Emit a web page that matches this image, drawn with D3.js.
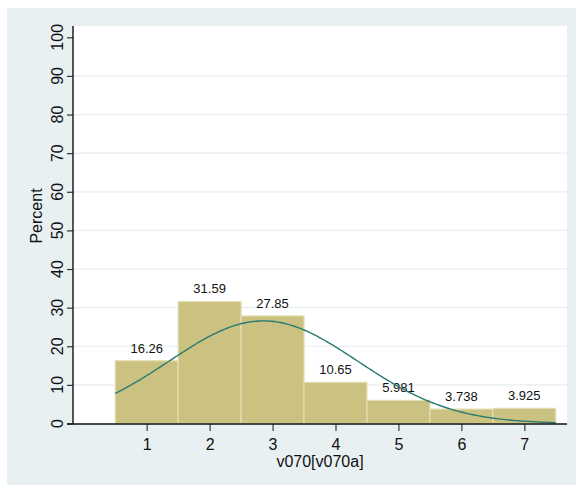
<!DOCTYPE html>
<html>
<head>
<meta charset="utf-8">
<script src="https://cdn.jsdelivr.net/npm/d3@7"></script>
<style>
  html, body { margin: 0; padding: 0; background: #ffffff; }
  svg { display: block; font-family: "Liberation Sans", Arial, sans-serif; }
</style>
</head>
<body>
<svg id="chart" width="576" height="486"></svg>
<script>
// ---- data ----
const categories = [1, 2, 3, 4, 5, 6, 7];
const percents = [16.26, 31.59, 27.85, 10.65, 5.981, 3.738, 3.925];
const percentLabels = ["16.26", "31.59", "27.85", "10.65", "5.981", "3.738", "3.925"];
const yTicks = [0, 10, 20, 30, 40, 50, 60, 70, 80, 90, 100];
const xTicks = [1, 2, 3, 4, 5, 6, 7];
const xTitle = "v070[v070a]";
const yTitle = "Percent";

// normal overlay: mean and sd of the distribution shown by the bars
const mean = d3.sum(categories, (c, i) => c * percents[i]) / d3.sum(percents);
const sd = Math.sqrt(d3.sum(categories, (c, i) => (c - mean) ** 2 * percents[i]) / d3.sum(percents));

// ---- layout ----
const svg = d3.select("#chart");
const W = 576, H = 486;
const plot = { left: 73, right: 567, top: 26, bottom: 424 };

const x = d3.scaleLinear().domain([1, 7]).range([146.7, 524.3]);
const y = d3.scaleLinear().domain([0, 100]).range([423.5, 37.3]);

// outer background
svg.append("rect").attr("x", 7).attr("y", 8).attr("width", W - 7).attr("height", 477)
  .attr("fill", "#e8f0f2");
// plot region
svg.append("rect").attr("x", plot.left).attr("y", plot.top)
  .attr("width", plot.right - plot.left).attr("height", plot.bottom - plot.top)
  .attr("fill", "#ffffff");

// gridlines
svg.append("g").selectAll("line").data(yTicks.filter(t => t > 0 && t < 100)).join("line")
  .attr("x1", plot.left).attr("x2", plot.right)
  .attr("y1", d => y(d)).attr("y2", d => y(d))
  .attr("stroke", "#e6eef0").attr("stroke-width", 1.2);

// bars
svg.append("g").selectAll("rect").data(categories).join("rect")
  .attr("x", d => x(d - 0.5))
  .attr("width", d => x(d + 0.5) - x(d - 0.5))
  .attr("y", (d, i) => y(percents[i]))
  .attr("height", (d, i) => y(0) - y(percents[i]))
  .attr("fill", "#cbc282")
  .attr("stroke", "#e4dfb2").attr("stroke-width", 1.2);

// bar labels
svg.append("g").selectAll("text").data(categories).join("text")
  .attr("x", d => x(d))
  .attr("y", (d, i) => y(percents[i]) - 8)
  .attr("text-anchor", "middle")
  .attr("font-size", "13px").attr("fill", "#111")
  .text((d, i) => percentLabels[i]);

// normal density curve
const xs = d3.range(0, 201).map(k => 0.5 + k * (7 / 200));
const dens = xs.map(v => 100 * Math.exp(-0.5 * ((v - mean) / sd) ** 2) / (sd * Math.sqrt(2 * Math.PI)));
svg.append("path")
  .datum(xs.map((v, i) => [v, dens[i]]))
  .attr("fill", "none")
  .attr("stroke", "#2a7a73").attr("stroke-width", 1.4)
  .attr("d", d3.line().x(d => x(d[0])).y(d => y(d[1])));

// y axis
const yAxis = svg.append("g").attr("transform", `translate(${plot.left},0)`)
  .call(d3.axisLeft(y).tickValues(yTicks).tickSize(6).tickPadding(4).tickFormat(d3.format("d")));
yAxis.select(".domain").remove();
yAxis.selectAll(".tick line").attr("stroke", "#333").attr("stroke-width", 1.2);
yAxis.selectAll(".tick text").remove();
svg.append("line").attr("x1", plot.left).attr("x2", plot.left)
  .attr("y1", plot.top).attr("y2", plot.bottom)
  .attr("stroke", "#111").attr("stroke-width", 1.4);
svg.append("g").selectAll("text").data(yTicks).join("text")
  .attr("transform", d => `translate(63,${y(d)}) rotate(-90)`)
  .attr("text-anchor", "middle")
  .attr("font-size", "16px").attr("fill", "#111")
  .text(d => d);

// x axis
const xAxis = svg.append("g").attr("transform", `translate(0,${plot.bottom})`)
  .call(d3.axisBottom(x).tickValues(xTicks).tickSize(7).tickPadding(7.5).tickFormat(d3.format("d")));
xAxis.select(".domain").remove();
xAxis.selectAll(".tick line").attr("stroke", "#555").attr("stroke-width", 1.4);
xAxis.selectAll(".tick text").attr("font-size", "16px").attr("fill", "#111")
  .attr("font-family", "'Liberation Sans', Arial, sans-serif");
svg.append("line").attr("x1", 67).attr("x2", plot.right)
  .attr("y1", plot.bottom).attr("y2", plot.bottom)
  .attr("stroke", "#111").attr("stroke-width", 1.4);

// titles
svg.append("text").attr("x", (plot.left + plot.right) / 2).attr("y", 466.5)
  .attr("text-anchor", "middle").attr("font-size", "16px").attr("fill", "#111")
  .text(xTitle);
svg.append("text").attr("transform", "translate(41.5,216) rotate(-90)")
  .attr("text-anchor", "middle").attr("font-size", "16px").attr("fill", "#111")
  .text(yTitle);
</script>
</body>
</html>
